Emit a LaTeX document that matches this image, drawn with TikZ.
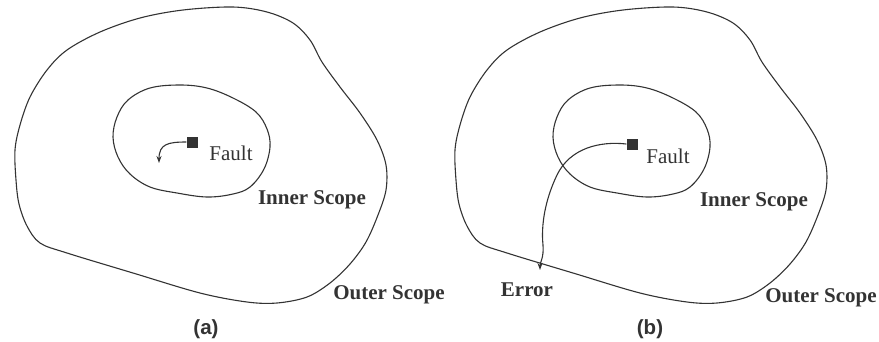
\documentclass[tikz,border=0pt]{standalone}
\usepackage{fontspec}
\setmainfont{Liberation Serif}
\newfontfamily\labelsans{Liberation Sans}
\usetikzlibrary{arrows.meta}

\definecolor{ink}{HTML}{333333}

\tikzset{
  scopeline/.style={draw=ink, line width=1.1pt, line join=round},
  faultbox/.style={fill=ink, draw=none, minimum size=11pt, inner sep=0pt},
  faulttext/.style={text=ink, font=\fontsize{21}{24}\selectfont, inner sep=0pt},
  scopetext/.style={text=ink, font=\fontsize{21}{24}\selectfont\bfseries, inner sep=0pt},
  captiontext/.style={text=ink, font=\labelsans\fontsize{20.5}{24}\selectfont\bfseries, inner sep=0pt},
  flow/.style={draw=ink, line width=1.1pt, -{Stealth[length=7pt,width=5pt]}},
}

% outer boundary of a panel
\newcommand\outerblob{%
  \draw[scopeline] plot[smooth cycle, tension=0.55] coordinates {
    (233,7) (267,12) (293,23) (310,40) (322,62) (340,87) (360,113)
    (377,140) (386,165) (386,190) (378,215) (366,242) (350,264)
    (330,283) (307,297) (277,303) (247,302) (200,293) (133,273)
    (67,253) (40,243) (27,226) (19,204) (16,180) (15,150)
    (20,125) (30,97) (47,70) (67,50) (100,32) (140,18) (183,10)};
}
% inner boundary of a panel
\newcommand\innerblob{%
  \draw[scopeline] plot[smooth cycle, tension=0.6] coordinates {
    (113,137) (117,117) (128,100) (150,88) (180,85) (207,88) (233,98)
    (256,112) (267,129) (270,147) (264,169) (250,187) (233,194)
    (207,197) (177,193) (150,187) (130,174) (118,157)};
}

\begin{document}
\begin{tikzpicture}[x=1pt, y=-1pt]
  \useasboundingbox (0,0) rectangle (879,341);

  % ---------- panel (a) ----------
  \outerblob
  \innerblob
  \node[faultbox] (fa) at (192,142) {};
  \node[faulttext] (faulta) at (231,153) {Fault};
  \coordinate (fa-end) at (159,163);
  \draw[flow] (fa.west) .. controls (168,142) and (159,144) .. (fa-end);
  \node[scopetext] (innera) at (312,200) {Inner Scope};
  \node[scopetext] (outera) at (389,295) {Outer Scope};
  \node[captiontext] (capa) at (206,329) {(a)};

  % ---------- panel (b) ----------
  \begin{scope}[xshift=440pt]
    \outerblob
    \innerblob
  \end{scope}
  \node[faultbox] (fb) at (632,144) {};
  \node[faulttext] (faultb) at (668,156) {Fault};
  \node[scopetext] (innerb) at (754,202) {Inner Scope};
  \node[scopetext] (outerb) at (821,298) {Outer Scope};
  \node[scopetext] (errb) at (527,290) {Error};
  \coordinate (fb-end) at (540,270);
  \draw[flow] (fb.west) .. controls (600,141) and (570,148) .. (557,175)
    .. controls (545,200) and (541,225) .. (543,245)
    .. controls (544,258) and (540,262) .. (fb-end);
  \node[captiontext] (capb) at (650,329) {(b)};
\end{tikzpicture}
\end{document}
